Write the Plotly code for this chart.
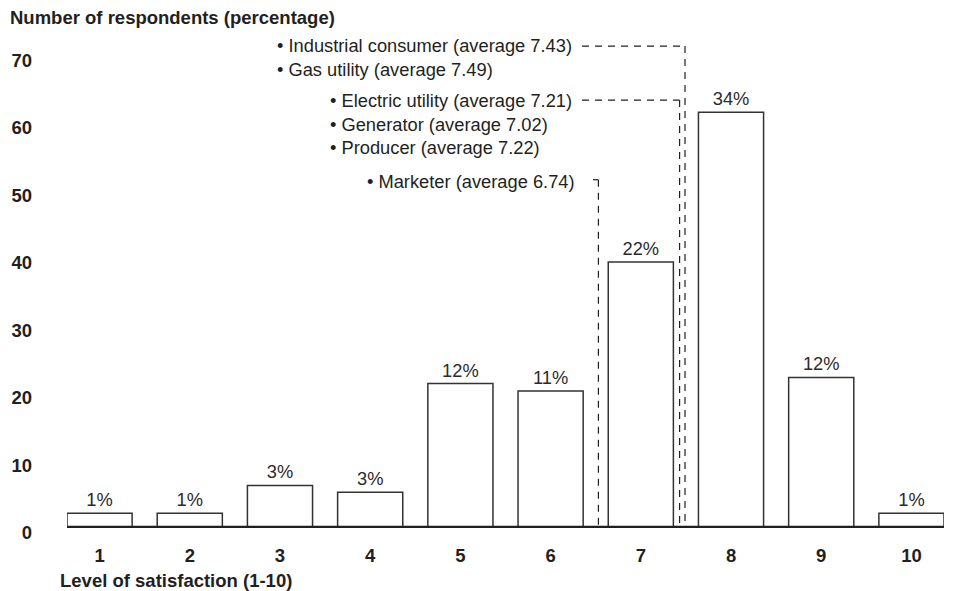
import plotly.graph_objects as go

# ---- data ----
levels = [1, 2, 3, 4, 5, 6, 7, 8, 9, 10]
level_labels = ["1", "2", "3", "4", "5", "6", "7", "8", "9", "10"]
respondents = [2.2, 2.2, 6.3, 5.3, 21.4, 20.3, 39.4, 61.6, 22.3, 2.2]
share_labels = ["1%", "1%", "3%", "3%", "12%", "11%", "22%", "34%", "12%", "1%"]
y_ticks = [0, 10, 20, 30, 40, 50, 60, 70]

group_texts = [
    ["• Industrial consumer (average 7.43)", "• Gas utility (average 7.49)"],
    ["• Electric utility (average 7.21)", "• Generator (average 7.02)", "• Producer (average 7.22)"],
    ["• Marketer (average 6.74)"],
]
group_line_x = [7.49, 7.43, 6.53]      # where each group's dashed marker meets the axis
group_line_y = [71.4, 63.4, 51.6]      # height of each group's connector

# ---- layout geometry (pixels) ----
W, H = 955, 591
L, R, T, B = 67, 11, 42, 63
PW, PH = W - L - R, H - T - B
X0, X1 = 0.639, 10.361
YMAX = 72

INK = "#231f20"
FONT = "Liberation Sans, Arial, Helvetica, sans-serif"


def px(xp):
    return (xp - L) / PW


def py(yp):
    return (H - B - yp) / PH


fig = go.Figure()
fig.add_trace(go.Bar(
    x=levels, y=respondents, width=0.722,
    marker=dict(color="white", line=dict(color="#333333", width=1.5)),
    text=share_labels, textposition="outside", cliponaxis=False, constraintext="none",
    textfont=dict(family=FONT, size=18.3, color="#2b2b2b"),
    hoverinfo="skip", showlegend=False,
))

shapes = []
annotations = []

# text blocks with leaders
text_x = [275, 328, 365]
text_y0 = [46, 101, 181]
line_spacing = [23.5, 23, 0]
leader_start = [582, 582, 593]
for gi, lines in enumerate(group_texts):
    for li, t in enumerate(lines):
        annotations.append(dict(
            xref="paper", yref="paper", x=px(text_x[gi]), y=py(text_y0[gi] + li * line_spacing[gi]),
            xanchor="left", yanchor="middle", text=t, showarrow=False,
            font=dict(family=FONT, size=18.3, color=INK),
        ))
    xs = (leader_start[gi] - L) / PW * (X1 - X0) + X0
    dash = dict(color=INK, width=1.2, dash="7px,6px")
    shapes.append(dict(type="line", xref="x", yref="y", x0=xs, x1=group_line_x[gi],
                       y0=group_line_y[gi], y1=group_line_y[gi], line=dash, layer="above"))
    shapes.append(dict(type="line", xref="x", yref="y", x0=group_line_x[gi], x1=group_line_x[gi],
                       y0=group_line_y[gi], y1=0, line=dash, layer="above"))

# thick baseline
shapes.append(dict(type="line", xref="x", yref="y", x0=X0, x1=X1, y0=0, y1=0,
                   line=dict(color=INK, width=4.5), layer="above"))

annotations.append(dict(
    xref="paper", yref="paper", x=px(8), y=py(17), xanchor="left", yanchor="middle",
    text="Number of respondents (percentage)", showarrow=False,
    font=dict(family=FONT, size=18.5, color=INK, weight="bold"),
))
annotations.append(dict(
    xref="paper", yref="paper", x=px(58), y=py(580), xanchor="left", yanchor="middle",
    text="Level of satisfaction (1-10)", showarrow=False,
    font=dict(family=FONT, size=18.5, color=INK, weight="bold"),
))

fig.update_layout(
    width=W, height=H,
    margin=dict(l=L, r=R, t=T, b=B, pad=0),
    paper_bgcolor="white", plot_bgcolor="white",
    bargap=0.2,
    shapes=shapes, annotations=annotations,
    xaxis=dict(range=[X0, X1], tickvals=levels, ticktext=level_labels,
               showgrid=False, zeroline=False, showline=False, ticks="",
               ticklabelstandoff=14,
               tickfont=dict(family=FONT, size=18.5, color=INK, weight="bold")),
    yaxis=dict(range=[0, YMAX], tickvals=y_ticks, showgrid=False, zeroline=False,
               showline=False, ticks="", ticklabelstandoff=34, ticklabelshift=5,
               tickfont=dict(family=FONT, size=18.5, color=INK, weight="bold")),
)

fig.write_html("out.html")
